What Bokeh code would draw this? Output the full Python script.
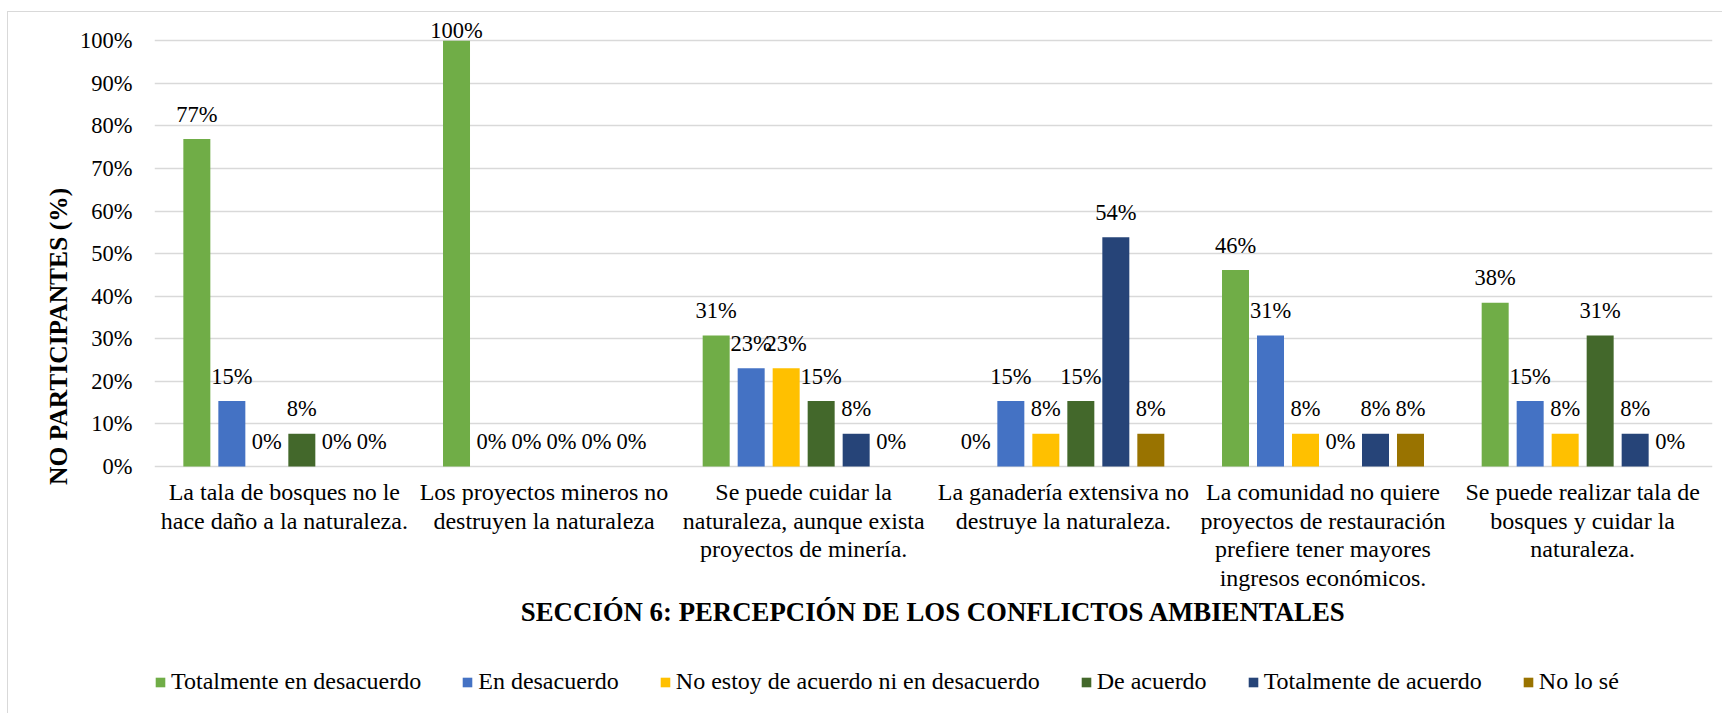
from bokeh.plotting import figure
from bokeh.models import (FactorRange, Range1d, FixedTicker, NumeralTickFormatter,
                          Legend, LegendItem, ColumnDataSource)
from bokeh.transform import dodge
from bokeh.core.properties import value
from bokeh.embed import file_html
from bokeh.resources import INLINE

categories = [
    "La tala de bosques no le\nhace daño a la naturaleza.",
    "Los proyectos mineros no\ndestruyen la naturaleza",
    "Se puede cuidar la\nnaturaleza, aunque exista\nproyectos de minería.",
    "La ganadería extensiva no\ndestruye la naturaleza.",
    "La comunidad no quiere\nproyectos de restauración\nprefiere tener mayores\ningresos económicos.",
    "Se puede realizar tala de\nbosques y cuidar la\nnaturaleza.",
]

series_names = [
    "Totalmente en desacuerdo",
    "En desacuerdo",
    "No estoy de acuerdo ni en desacuerdo",
    "De acuerdo",
    "Totalmente de acuerdo",
    "No lo sé",
]

totalmente_en_desacuerdo = [76.92, 100.0, 30.77, 0.0, 46.15, 38.46]
en_desacuerdo = [15.38, 0.0, 23.08, 15.38, 30.77, 15.38]
ni_acuerdo_ni_desacuerdo = [0.0, 0.0, 23.08, 7.69, 7.69, 7.69]
de_acuerdo = [7.69, 0.0, 15.38, 15.38, 0.0, 30.77]
totalmente_de_acuerdo = [0.0, 0.0, 7.69, 53.85, 7.69, 7.69]
no_lo_se = [0.0, 0.0, 0.0, 7.69, 7.69, 0.0]

colors = ["#70AD47", "#4472C4", "#FFC000", "#43682B", "#264478", "#997300"]

y_ticks = [i / 10 for i in range(11)]

title_text = "SECCIÓN 6: PERCEPCIÓN DE LOS CONFLICTOS AMBIENTALES"
y_title = "NO PARTICIPANTES (%)"

series = [totalmente_en_desacuerdo, en_desacuerdo, ni_acuerdo_ni_desacuerdo,
          de_acuerdo, totalmente_de_acuerdo, no_lo_se]

FONT = "Liberation Serif"

data = {"cat": categories, "zero": [0.0] * len(categories)}
for i, s in enumerate(series):
    data[f"v{i}"] = [v / 100 for v in s]
    data[f"ly{i}"] = [min(v / 100, 0.965) for v in s]
    data[f"lab{i}"] = [f"{round(v)}%" for v in s]
source = ColumnDataSource(data)

W, H = 1715, 702
p = figure(x_range=FactorRange(factors=categories), y_range=Range1d(-0.545, 1.0665),
           width=W, height=H, output_backend="svg", toolbar_location=None,
           title=None, x_axis_location=None,
           min_border_left=146, min_border_right=11,
           min_border_top=0, min_border_bottom=16)
p.styles = {"margin-left": "7px", "margin-top": "11px",
            "border-top": "1px solid #d9d9d9", "border-left": "1px solid #d9d9d9"}
p.outline_line_color = None
p.background_fill_color = "white"
p.border_fill_color = "white"

slot = 35 / 259.7
bw = 27 / 259.7
items = []
for i, name in enumerate(series_names):
    off = (i - 2.5) * slot
    r = p.vbar(x=dodge("cat", off, range=p.x_range), top=f"v{i}", width=bw,
               source=source, fill_color=colors[i], line_color=None)
    items.append(LegendItem(label=name, renderers=[r]))
    p.text(x=dodge("cat", off, range=p.x_range), y=f"ly{i}", text=f"lab{i}",
           source=source, text_align="center", text_baseline="alphabetic",
           y_offset=-25, text_font=value(FONT), text_font_size="22.5px",
           text_color="black")

# category labels under the zero line
p.text(x="cat", y="zero", text="cat", source=source, text_align="center",
       text_baseline="top", y_offset=13, text_font=value(FONT),
       text_font_size="24px", text_line_height=1.09, text_color="black")

# chart title under the category labels
p.text(x=[len(categories) / 2], y=[0.0], text=[title_text], text_align="center",
       text_baseline="alphabetic", y_offset=146, text_font=value(FONT),
       text_font_size="26.8px", text_font_style="bold", text_color="black")

for g in p.grid:
    if g.dimension == 0:
        g.visible = False
p.ygrid.grid_line_color = "#d9d9d9"
p.ygrid.grid_line_width = 1.5
p.ygrid[0].ticker = FixedTicker(ticks=y_ticks)

yax = p.yaxis[0]
yax.ticker = FixedTicker(ticks=y_ticks)
yax.formatter = NumeralTickFormatter(format="0%")
yax.axis_line_color = None
yax.major_tick_line_color = None
yax.minor_tick_line_color = None
yax.major_tick_out = 0
yax.major_tick_in = 0
yax.major_label_standoff = 22
yax.major_label_text_font = FONT
yax.major_label_text_font_size = "22.5px"
yax.major_label_text_color = "black"
# leading no-break spaces lift the rotated title, as placed in the original
yax.axis_label = "\u00a0" * 6 + y_title
yax.axis_label_text_font = FONT
yax.axis_label_text_font_size = "25.5px"
yax.axis_label_text_font_style = "bold"
yax.axis_label_text_color = "black"
yax.axis_label_standoff = 4

legend = Legend(items=items, orientation="horizontal", location=(0, 3),
                glyph_width=12, glyph_height=12, label_standoff=5, spacing=40,
                padding=0, margin=0, border_line_color=None,
                background_fill_alpha=0, label_text_font=FONT,
                label_text_font_size="24px", label_text_color="black")
p.add_layout(legend)

open("out.html", "w").write(file_html(p, INLINE))
